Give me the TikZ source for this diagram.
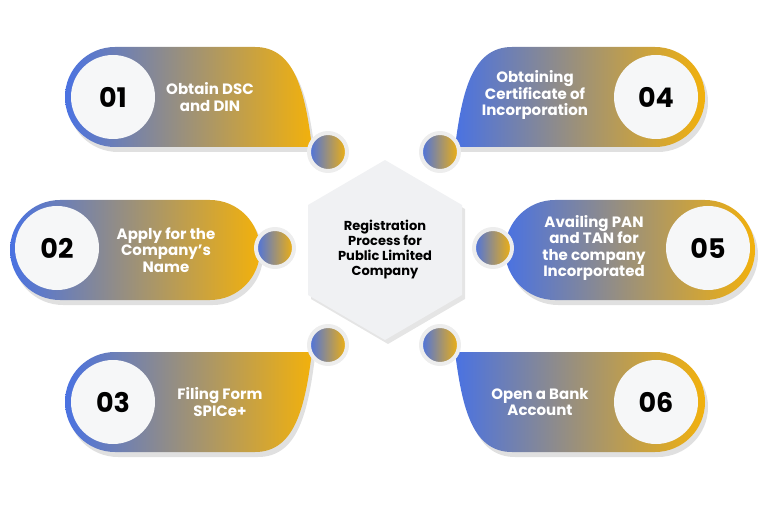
\documentclass[tikz,border=0pt]{standalone}
\usepackage{fontspec}
\setmainfont{Poppins}
\usetikzlibrary{shapes.geometric}
\definecolor{stepblue}{HTML}{4A72E2}
\definecolor{stepgold}{HTML}{F2B10C}
\definecolor{hexgray}{HTML}{F0F1F3}
\tikzset{
  card/.style={left color=stepblue, right color=stepgold, draw=none},
  cast/.style={fill=black!12, draw=none},
  num/.style={circle, minimum size=84pt, fill=hexgray!60, font=\bfseries\fontsize{27}{27}\selectfont},
  dot/.style={circle, minimum size=38pt, left color=stepblue, right color=stepgold, draw=white!93!black, line width=4pt},
  txt/.style={text=white, align=center, font=\bfseries\fontsize{15}{16.5}\selectfont}
}
\begin{document}
\begin{tikzpicture}[x=1pt,y=1pt]
\useasboundingbox (0,0) rectangle (768,512);

% shadows
\fill[cast] (118,360) arc(270:90:50) -- (258,460) .. controls (298,460) and (308,415) .. (315,360) -- cycle;
\fill[cast] (63,207) arc(270:90:50) -- (213,307) arc(90:-90:50) -- cycle;
\fill[cast] (118,55) arc(270:90:50) -- (315,155) .. controls (308,100) and (298,55) .. (258,55) -- cycle;
\fill[cast] (658,460) arc(90:-90:50) -- (458,360) .. controls (465,415) and (475,460) .. (515,460) -- cycle;
\fill[cast] (708,307) arc(90:-90:50) -- (558,207) arc(270:90:50) -- cycle;
\fill[cast] (658,155) arc(90:-90:50) -- (515,55) .. controls (475,55) and (465,100) .. (458,155) -- cycle;

% cards
\shade[card] (115,365) arc(270:90:50) -- (255,465) .. controls (295,465) and (305,420) .. (312,365) -- cycle;
\shade[card] (60,212) arc(270:90:50) -- (210,312) arc(90:-90:50) -- cycle;
\shade[card] (115,60) arc(270:90:50) -- (312,160) .. controls (305,105) and (295,60) .. (255,60) -- cycle;
\shade[card] (655,465) arc(90:-90:50) -- (455,365) .. controls (462,420) and (472,465) .. (512,465) -- cycle;
\shade[card] (705,312) arc(90:-90:50) -- (555,212) arc(270:90:50) -- cycle;
\shade[card] (655,160) arc(90:-90:50) -- (512,60) .. controls (472,60) and (462,105) .. (455,160) -- cycle;

% centre hexagon
\fill[black!10] (388,348) -- (465,303) -- (465,213) -- (388,168) -- (311,213) -- (311,303) -- cycle;
\fill[hexgray] (385,352) -- (462,307) -- (462,217) -- (385,172) -- (308,217) -- (308,307) -- cycle;
\node[font=\bfseries\fontsize{13}{15}\selectfont, align=center] (hub) at (385,262)
  {Registration\\Process for\\Public Limited\\Company};

% small joints
\node[dot] (j1) at (328,360) {};
\node[dot] (j2) at (275,264) {};
\node[dot] (j3) at (328,167) {};
\node[dot] (j4) at (440,360) {};
\node[dot] (j5) at (493,264) {};
\node[dot] (j6) at (440,167) {};

% numbers
\node[num] (n1) at (113,415) {01};
\node[num] (n2) at (57,264) {02};
\node[num] (n3) at (113,110) {03};
\node[num] (n4) at (656,415) {04};
\node[num] (n5) at (708,264) {05};
\node[num] (n6) at (656,110) {06};

% labels
\node[txt] (t1) at (210,415) {Obtain DSC\\and DIN};
\node[txt] (t2) at (166,262) {Apply for the\\Company’s\\Name};
\node[txt] (t3) at (220,110) {Filing Form\\SPICe+};
\node[txt] (t4) at (535,417) {Obtaining\\Certificate of\\Incorporation};
\node[txt] (t5) at (594,264) {Availing PAN\\and TAN for\\the company\\Incorporated};
\node[txt] (t6) at (540,110) {Open a Bank\\Account};
\end{tikzpicture}
\end{document}
